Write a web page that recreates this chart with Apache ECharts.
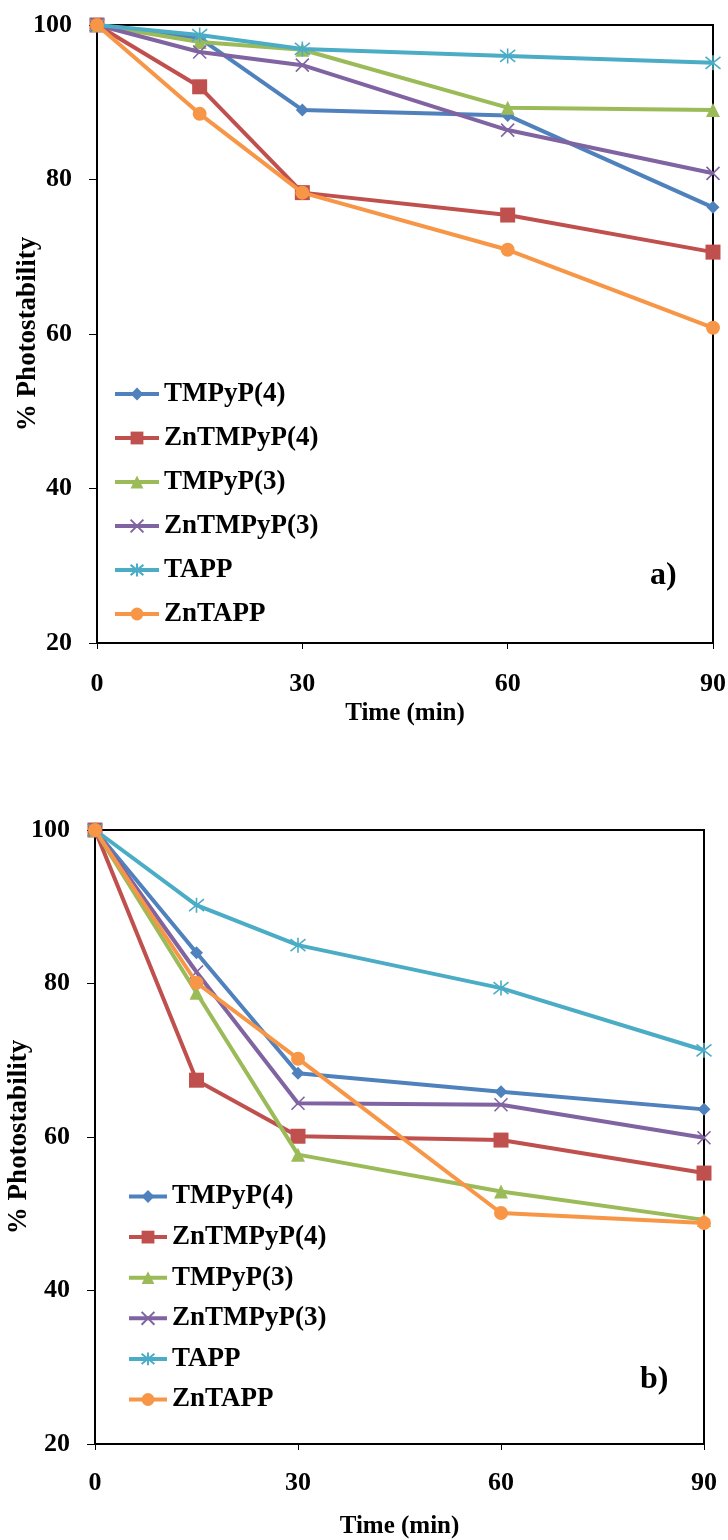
<!DOCTYPE html>
<html>
<head>
<meta charset="utf-8">
<script src="https://cdn.jsdelivr.net/npm/echarts@6/dist/echarts.min.js"></script>
<style>
  html, body { margin: 0; padding: 0; background: #fff; }
  #chart { width: 728px; height: 1540px; }
</style>
</head>
<body>
<div id="chart"></div>
<script>
// Irradiation times (min)
const times = [0, 15, 30, 60, 90];

// Series names, in legend order
const names = ['TMPyP(4)', 'ZnTMPyP(4)', 'TMPyP(3)', 'ZnTMPyP(3)', 'TAPP', 'ZnTAPP'];

// Panel a) % photostability
const tmpyp4A   = [100, 98.3, 89.0, 88.3, 76.4];
const zntmpyp4A = [100, 92.0, 78.3, 75.4, 70.6];
const tmpyp3A   = [100, 97.8, 96.8, 89.3, 89.0];
const zntmpyp3A = [100, 96.5, 94.8, 86.4, 80.8];
const tappA     = [100, 98.7, 96.9, 96.0, 95.1];
const zntappA   = [100, 88.5, 78.3, 70.9, 60.8];

// Panel b) % photostability
const tmpyp4B   = [100, 84.0, 68.3, 65.9, 63.6];
const zntmpyp4B = [100, 67.4, 60.1, 59.6, 55.3];
const tmpyp3B   = [100, 78.8, 57.7, 52.9, 49.2];
const zntmpyp3B = [100, 81.5, 64.4, 64.2, 59.9];
const tappB     = [100, 90.2, 85.0, 79.4, 71.3];
const zntappB   = [100, 80.1, 70.2, 50.1, 48.8];

// Axis tick settings
const yMin = 20, yMax = 100, yStep = 20;
const xMin = 0, xMax = 90, xStep = 30;

const colors = ['#4F81BD', '#C0504D', '#9BBB59', '#8064A2', '#4BACC6', '#F79646'];
const crossPath = 'path://M0,0L10,10M10,0L0,10';
const starPath = 'path://M0,1L10,9M10,1L0,9M5,0L5,10';
const markers = [
  { symbol: 'diamond', size: 13, stroke: false },
  { symbol: 'rect', size: 15, stroke: false },
  { symbol: 'triangle', size: 14, stroke: false },
  { symbol: crossPath, size: 13, stroke: true },
  { symbol: starPath, size: 15, stroke: true },
  { symbol: 'circle', size: 14, stroke: false }
];

const FONT = '"Liberation Serif", "Times New Roman", serif';

const panelA = [tmpyp4A, zntmpyp4A, tmpyp3A, zntmpyp3A, tappA, zntappA];
const panelB = [tmpyp4B, zntmpyp4B, tmpyp3B, zntmpyp3B, tappB, zntappB];

function makeSeries(values, idx) {
  return values.map(function (vals, i) {
    const m = markers[i];
    return {
      name: names[i],
      type: 'line',
      xAxisIndex: idx,
      yAxisIndex: idx,
      data: times.map(function (t, k) { return [t, vals[k]]; }),
      symbol: m.symbol,
      symbolSize: m.size,
      color: colors[i],
      lineStyle: { color: colors[i], width: 4 },
      itemStyle: m.stroke
        ? { color: colors[i], borderColor: colors[i], borderWidth: 1.6 }
        : { color: colors[i] },
      emphasis: { disabled: true },
      z: 2 + i
    };
  });
}

function xAxis(idx, margin, nameGap) {
  return {
    type: 'value', gridIndex: idx,
    min: xMin, max: xMax, interval: xStep,
    name: 'Time (min)', nameLocation: 'middle', nameGap: nameGap,
    nameMoveOverlap: false,
    nameTextStyle: { fontFamily: FONT, fontWeight: 'bold', fontSize: 25, color: '#000' },
    axisLine: { show: true, onZero: false, lineStyle: { color: '#000', width: 2 } },
    axisTick: { show: true, length: 6, lineStyle: { color: '#000', width: 1 } },
    axisLabel: { margin: margin, fontFamily: FONT, fontWeight: 'bold', fontSize: 26, color: '#000' },
    splitLine: { show: false }
  };
}

function yAxis(idx, nameGap) {
  return {
    type: 'value', gridIndex: idx,
    min: yMin, max: yMax, interval: yStep,
    name: '% Photostability', nameLocation: 'middle', nameGap: nameGap,
    nameMoveOverlap: false,
    nameTextStyle: { fontFamily: FONT, fontWeight: 'bold', fontSize: 27, color: '#000' },
    axisLine: { show: true, onZero: false, lineStyle: { color: '#000', width: 2 } },
    axisTick: { show: true, length: 8, lineStyle: { color: '#000', width: 1 } },
    axisLabel: { margin: 25, fontFamily: FONT, fontWeight: 'bold', fontSize: 26, color: '#000' },
    splitLine: { show: false }
  };
}

function legend(left, top, gap, width) {
  return {
    orient: 'vertical',
    left: left, top: top,
    padding: 0,
    itemGap: gap,
    itemWidth: width, itemHeight: 16,
    selectedMode: false,
    data: names,
    lineStyle: { width: 4 },
    textStyle: { fontFamily: FONT, fontWeight: 'bold', fontSize: 27, color: '#000', lineHeight: 27 }
  };
}

const option = {
  backgroundColor: '#fff',
  animation: false,
  grid: [
    { left: 97, top: 25, width: 616, height: 618, outerBoundsMode: 'none', show: true, borderColor: '#000', borderWidth: 2, backgroundColor: 'transparent' },
    { left: 95, top: 830, width: 609, height: 614, outerBoundsMode: 'none', show: true, borderColor: '#000', borderWidth: 2, backgroundColor: 'transparent' }
  ],
  xAxis: [xAxis(0, 28, 58), xAxis(1, 26, 70)],
  yAxis: [yAxis(0, 55), yAxis(1, 62)],
  legend: [legend(113, 380.5, 17, 44), legend(127, 1183, 13.6, 38)],
  graphic: [
    { type: 'text', left: 650, top: 560, style: { text: 'a)', fontFamily: FONT, fontWeight: 'bold', fontSize: 32, fill: '#000' } },
    { type: 'text', left: 640, top: 1364, style: { text: 'b)', fontFamily: FONT, fontWeight: 'bold', fontSize: 32, fill: '#000' } }
  ],
  series: makeSeries(panelA, 0).concat(makeSeries(panelB, 1))
};

const chart = echarts.init(document.getElementById('chart'), null, { renderer: 'canvas' });
chart.setOption(option);
</script>
</body>
</html>
